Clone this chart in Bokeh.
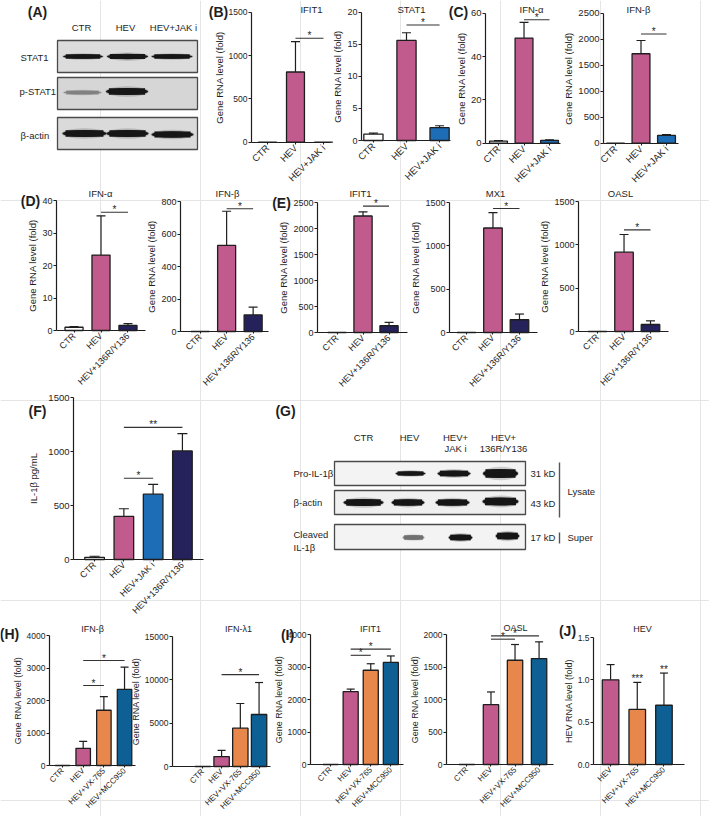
import math
from bokeh.plotting import figure
from bokeh.models import (Range1d, FixedTicker, LinearAxis, ColumnDataSource,
                          NumeralTickFormatter)
from bokeh.core.properties import value
from bokeh.embed import file_html
from bokeh.resources import INLINE

FONT = "Liberation Sans"
INK = "#1e1e1e"

# ---------------- data ----------------
cats_jak = ["CTR", "HEV", "HEV+JAK i"]
cats_136 = ["CTR", "HEV", "HEV+136R/Y136"]
cats_f = ["CTR", "HEV", "HEV+JAK i", "HEV+136R/Y136"]
cats_inh = ["CTR", "HEV", "HEV+VX-765", "HEV+MCC950"]
cats_j = ["HEV", "HEV+VX-765", "HEV+MCC950"]

b_ifit1_mean = [1, 810, 2]
b_ifit1_err = [0, 350, 0]
b_ifit1_sig = [(1, 2, 1200, "*")]
b_ifit1_ticks = [0, 500, 1000, 1500]

b_stat1_mean = [1.0, 15.6, 2.0]
b_stat1_err = [0.15, 1.2, 0.3]
b_stat1_sig = [(1, 2, 18.0, "*")]
b_stat1_ticks = [0, 5, 10, 15, 20]

c_ifna_mean = [1.0, 48.5, 1.3]
c_ifna_err = [0.2, 7.3, 0.3]
c_ifna_sig = [(1, 2, 57, "*")]
c_ifna_ticks = [0, 20, 40, 60]

c_ifnb_mean = [1, 1720, 150]
c_ifnb_err = [0, 255, 15]
c_ifnb_sig = [(1, 2, 2100, "*")]
c_ifnb_ticks = [0, 500, 1000, 1500, 2000, 2500]

d_ifna_mean = [1.0, 23.2, 1.6]
d_ifna_err = [0.2, 12.1, 0.5]
d_ifna_sig = [(1, 2, 36.4, "*")]
d_ifna_ticks = [0, 10, 20, 30, 40]

d_ifnb_mean = [1, 530, 102]
d_ifnb_err = [0, 210, 48]
d_ifnb_sig = [(1, 2, 755, "*")]
d_ifnb_ticks = [0, 200, 400, 600, 800]

e_ifit1_mean = [1, 2240, 130]
e_ifit1_err = [0, 80, 65]
e_ifit1_sig = [(1, 2, 2430, "*")]
e_ifit1_ticks = [0, 500, 1000, 1500, 2000, 2500]

e_mx1_mean = [1, 1206, 147]
e_mx1_err = [0, 178, 66]
e_mx1_sig = [(1, 2, 1430, "*")]
e_mx1_ticks = [0, 500, 1000, 1500]

e_oasl_mean = [1, 915, 81]
e_oasl_err = [0, 204, 42]
e_oasl_sig = [(1, 2, 1173, "*")]
e_oasl_ticks = [0, 500, 1000, 1500]

f_il1b_mean = [20, 400, 605, 1005]
f_il1b_err = [10, 70, 90, 160]
f_il1b_sig = [(1, 2, 753, "*"), (1, 3, 1223, "**")]
f_il1b_ticks = [0, 500, 1000, 1500]

h_ifnb_mean = [1, 530, 1700, 2340]
h_ifnb_err = [0, 210, 420, 690]
h_ifnb_sig = [(1, 2, 2460, "*"), (1, 3, 3230, "*")]
h_ifnb_ticks = [0, 1000, 2000, 3000, 4000]

h_ifnl1_mean = [1, 1150, 4420, 6000]
h_ifnl1_err = [0, 700, 2850, 3690]
h_ifnl1_sig = [(1, 3, 10600, "*")]
h_ifnl1_ticks = [0, 5000, 10000, 15000]

i_ifit1_mean = [1, 2240, 2900, 3140]
i_ifit1_err = [0, 80, 200, 200]
i_ifit1_sig = [(1, 2, 3360, "*"), (1, 3, 3550, "*")]
i_ifit1_ticks = [0, 1000, 2000, 3000, 4000]

i_oasl_mean = [1, 920, 1604, 1630]
i_oasl_err = [0, 196, 242, 257]
i_oasl_sig = [(1, 2, 1928, "*"), (1, 3, 1979, "*")]
i_oasl_ticks = [0, 500, 1000, 1500, 2000]

j_hev_mean = [1.0, 0.65, 0.70]
j_hev_err = [0.18, 0.32, 0.38]
j_hev_marks = ["", "***", "**"]
j_hev_ticks = [0.0, 0.5, 1.0, 1.5]

# ---------------- styles ----------------
COLOR = {"CTR": "#ffffff", "HEV": "#c25b8d", "HEV+JAK i": "#1c6db6",
         "HEV+136R/Y136": "#25215b", "HEV+VX-765": "#e8874c",
         "HEV+MCC950": "#0e5f94"}

W, H = 709, 816

p = figure(width=W, height=H, output_backend="svg", toolbar_location=None,
           x_range=Range1d(0, W), y_range=Range1d(H, 0), min_border=0,
           x_axis_location=None, y_axis_location=None)
p.outline_line_color = None
p.background_fill_color = "white"
p.border_fill_color = "white"


def txt(x, y, s, size="9.5px", align="left", bold=False, baseline="middle"):
    p.text(x=[x], y=[y], text=[s], text_align=align, text_baseline=baseline,
           text_font=value(FONT), text_font_size=value(size),
           text_font_style="bold" if bold else "normal", text_color=INK)


def style_axis(ax, tf, lf=None, ls=1):
    ax.axis_line_width = 1.2
    ax.axis_line_color = INK
    ax.major_tick_line_color = INK
    ax.major_tick_line_width = 1.1
    ax.major_tick_out = 3
    ax.major_tick_in = 0
    ax.minor_tick_out = 0
    ax.minor_tick_in = 0
    ax.major_label_text_font = FONT
    ax.major_label_text_font_size = tf
    ax.major_label_text_color = INK
    if lf:
        ax.axis_label_text_font = FONT
        ax.axis_label_text_font_size = lf
        ax.axis_label_text_font_style = "normal"
        ax.axis_label_text_color = INK
        ax.axis_label_standoff = ls


def panel(name, cats, means, errs, ticks, title, ylabel, lay, sigs=(),
          marks=None, fmt=None):
    fl, fr, ft, fb = lay["frame"]
    xr0, xr1 = lay["xr"]
    y0, y1 = ticks[0], ticks[-1]
    kx = (xr1 - xr0) / (fr - fl)
    ky = (y1 - y0) / (fb - ft)
    p.extra_x_ranges[name] = Range1d(xr0 - fl * kx, xr0 + (W - fl) * kx)
    p.extra_y_ranges[name] = Range1d(y0 - (H - fb) * ky, y0 + fb * ky)
    rn = dict(x_range_name=name, y_range_name=name)

    xs = list(range(len(cats)))
    bw = lay.get("bw", 0.67)
    src = ColumnDataSource(dict(x=xs, top=means, color=[COLOR[c] for c in cats]))
    p.vbar(x="x", top="top", bottom=y0, width=bw, fill_color="color",
           line_color=INK, line_width=1.3, source=src, **rn)

    cw = lay.get("cap", 9) * kx / 2
    ex = [x for x, e in zip(xs, errs) if e > 0]
    el = [m for m, e in zip(means, errs) if e > 0]
    eu = [m + e for m, e in zip(means, errs) if e > 0]
    p.segment(x0=ex, y0=el, x1=ex, y1=eu, line_color=INK, line_width=1.2, **rn)
    p.segment(x0=[x - cw for x in ex], y0=eu, x1=[x + cw for x in ex], y1=eu,
              line_color=INK, line_width=1.2, **rn)

    for a, b, yv, t in sigs:
        p.segment(x0=[a], y0=[yv], x1=[b], y1=[yv], line_color="#333333",
                  line_width=1.1, **rn)
        p.text(x=[(a + b) / 2], y=[yv], text=[t], text_align="center",
               text_baseline="bottom", y_offset=3, text_font=value(FONT),
               text_font_size=value("10px"), text_color=INK, **rn)
    if marks:
        mx = [x for x, k in zip(xs, marks) if k]
        my = [m + e for m, e, k in zip(means, errs, marks) if k]
        mt = [k for k in marks if k]
        p.text(x=mx, y=my, text=mt, text_align="center", text_baseline="bottom",
               y_offset=2, text_font=value(FONT), text_font_size=value("10px"),
               text_color=INK, **rn)

    ya = LinearAxis(fixed_location=xr0, bounds=(y0, y1),
                    ticker=FixedTicker(ticks=ticks), axis_label=ylabel, **rn)
    if fmt:
        ya.formatter = NumeralTickFormatter(format=fmt)
    style_axis(ya, lay.get("tf", "9px"), lay.get("lf", "9.5px"), lay.get("ls", 1))
    ya.major_label_standoff = 1
    p.add_layout(ya, "left")

    xa = LinearAxis(fixed_location=y0, bounds=(xr0, xr1),
                    ticker=FixedTicker(ticks=xs),
                    major_label_overrides={i: c for i, c in enumerate(cats)},
                    major_label_orientation=math.pi / 4, **rn)
    style_axis(xa, lay.get("xf", "9px"))
    xa.major_tick_out = 2
    xa.major_label_standoff = 2
    p.add_layout(xa, "below")

    if title:
        tx, ty = lay["title"]
        txt(tx, ty, title, lay.get("lf", "9.5px"), "center")
    if "letter" in lay:
        t, lx, ly = lay["letter"]
        txt(lx, ly, t, "14px", "center", bold=True)


def band(x, y, w, h, color="#161616", alpha=1.0):
    p.ellipse(x=[x], y=[y], width=[w * 1.04], height=[h * 1.5], fill_color=color,
              fill_alpha=0.18 * alpha, line_color=None)
    p.ellipse(x=[x], y=[y], width=[w], height=[h], fill_color=color,
              fill_alpha=alpha, line_color=None)
    p.rect(x=[x], y=[y], width=[w * 0.86], height=[h * 0.95], fill_color=color,
           fill_alpha=alpha, line_color=None)


def blot_box(l, r, t, b, fill):
    p.quad(left=[l], right=[r], top=[t], bottom=[b], fill_color=fill,
           line_color="#4a4a4a", line_width=1.3)


# ---------------- panel A (western blot) ----------------
txt(37, 11, "(A)", "14px", "center", bold=True)
for x, s in [(81, "CTR"), (125, "HEV"), (173, "HEV+JAK i")]:
    txt(x, 27, s, "9.5px", "center")
blot_box(57, 197, 40, 72, "#dcdcdc")
blot_box(57, 197, 77, 109, "#d6d6d6")
blot_box(57, 197, 117, 149, "#dadada")
txt(20, 57, "STAT1")
txt(19, 91, "p-STAT1")
txt(20, 135, "β-actin")
band(82.5, 56, 40, 4.5)
band(127, 56, 41, 5.5)
band(171.5, 56, 41, 4.5)
band(82, 92, 38, 4, "#7a7a7a", 0.7)
band(126.5, 91, 42, 7)
band(84, 133, 44, 7)
band(127, 133, 42, 7)
band(172, 134, 42, 6.5)

# ---------------- row 1 bar panels ----------------
YL = "Gene RNA level (fold)"
panel("b1", cats_jak, b_ifit1_mean, b_ifit1_err, b_ifit1_ticks, "IFIT1", YL,
      dict(frame=(251, 330, 11.7, 141.7), xr=(-0.57, 2.25), bw=0.64,
           title=(311, 9), letter=("(B)", 218, 11), tf="8.5px", xf="9.5px"),
      sigs=b_ifit1_sig)
panel("b2", cats_jak, b_stat1_mean, b_stat1_err, b_stat1_ticks, "STAT1", YL,
      dict(frame=(361, 450, 11.7, 140), xr=(-0.36, 2.33), bw=0.58,
           title=(411, 9), tf="9px", xf="9.5px"),
      sigs=b_stat1_sig)
panel("c1", cats_jak, c_ifna_mean, c_ifna_err, c_ifna_ticks, "IFN-α", YL,
      dict(frame=(485, 560, 12.7, 142.7), xr=(-0.51, 2.43), bw=0.7,
           title=(531, 9), letter=("(C)", 458, 11), tf="9.5px", xf="9.5px"),
      sigs=c_ifna_sig)
panel("c2", cats_jak, c_ifnb_mean, c_ifnb_err, c_ifnb_ticks, "IFN-β", YL,
      dict(frame=(603, 678, 12.7, 142.7), xr=(-0.47, 2.47), bw=0.7,
           title=(638, 9), tf="9.5px", xf="9.5px"),
      sigs=c_ifnb_sig)

# ---------------- row 2 ----------------
panel("d1", cats_136, d_ifna_mean, d_ifna_err, d_ifna_ticks, "IFN-α", YL,
      dict(frame=(56, 145, 200, 330), xr=(-0.65, 2.65), bw=0.67,
           title=(100, 193), letter=("(D)", 30, 200)),
      sigs=d_ifna_sig)
panel("d2", cats_136, d_ifnb_mean, d_ifnb_err, d_ifnb_ticks, "IFN-β", YL,
      dict(frame=(180, 268, 201, 331), xr=(-0.74, 2.58), bw=0.68,
           title=(227, 193)),
      sigs=d_ifnb_sig)
panel("e1", cats_136, e_ifit1_mean, e_ifit1_err, e_ifit1_ticks, "IFIT1", YL,
      dict(frame=(317, 407, 202, 332), xr=(-0.75, 2.71), bw=0.7,
           title=(360, 193), letter=("(E)", 281, 202)),
      sigs=e_ifit1_sig)
panel("e2", cats_136, e_mx1_mean, e_mx1_err, e_mx1_ticks, "MX1", YL,
      dict(frame=(449, 537, 202, 332), xr=(-0.64, 2.68), bw=0.7,
           title=(495, 193)),
      sigs=e_mx1_sig)
panel("e3", cats_136, e_oasl_mean, e_oasl_err, e_oasl_ticks, "OASL", YL,
      dict(frame=(578, 668, 201, 331), xr=(-0.72, 2.68), bw=0.7,
           title=(620, 193)),
      sigs=e_oasl_sig)

# ---------------- row 3 ----------------
panel("f", cats_f, f_il1b_mean, f_il1b_err, f_il1b_ticks, None, "IL-1β pg/mL",
      dict(frame=(73, 203, 397, 559), xr=(-0.72, 3.72), bw=0.67, cap=10,
           letter=("(F)", 37, 410), tf="9.5px", xf="9px", ls=6),
      sigs=f_il1b_sig)

txt(285, 410, "(G)", "14px", "center", bold=True)
for x, y, s in [(363, 437, "CTR"), (409, 437, "HEV"), (455, 437, "HEV+"),
                (455, 447.5, "JAK i"), (503, 437, "HEV+"), (503, 447.5, "136R/Y136")]:
    txt(x, y, s, "9.5px", "center")
blot_box(334, 525, 461, 485, "#f3f3f3")
blot_box(334, 525, 490, 514, "#f0f0f0")
blot_box(334, 525, 524, 549, "#f3f3f3")
txt(293, 473, "Pro-IL-1β")
txt(293, 502, "β-actin")
txt(293, 534, "Cleaved")
txt(293, 547, "IL-1β")
txt(530, 473, "31 kD")
txt(530, 503, "43 kD")
txt(530, 537, "17 kD")
p.segment(x0=[559, 559], y0=[462, 532], x1=[559, 559], y1=[517, 543],
          line_color="#555555", line_width=1.4)
txt(567, 491, "Lysate")
txt(567, 537, "Super")
band(410, 473, 30, 4.5)
band(453.5, 473, 33, 6)
band(500, 473, 35, 9)
band(363, 502, 40, 7)
band(407.5, 502, 33, 6.5)
band(452, 502, 34, 6.5)
band(500, 501, 36, 8)
band(413, 537, 22, 5, "#6a6a6a", 0.75)
band(460, 537, 24, 6)
band(507, 535.5, 24, 7)

# ---------------- row 4 ----------------
panel("h1", cats_inh, h_ifnb_mean, h_ifnb_err, h_ifnb_ticks, "IFN-β", YL,
      dict(frame=(49, 135, 635, 765), xr=(-0.63, 3.53), bw=0.7, cap=8,
           title=(92, 628), letter=("(H)", 9, 633), tf="8.5px", lf="9px",
           xf="8px"),
      sigs=h_ifnb_sig)
panel("h2", cats_inh, h_ifnl1_mean, h_ifnl1_err, h_ifnl1_ticks, "IFN-λ1", YL,
      dict(frame=(172, 270, 636, 766), xr=(-1.62, 3.61), bw=0.82, cap=8,
           title=(238, 628), tf="8.5px", lf="9px", xf="8px"),
      sigs=h_ifnl1_sig)
panel("i1", cats_inh, i_ifit1_mean, i_ifit1_err, i_ifit1_ticks, "IFIT1", YL,
      dict(frame=(310, 403, 634, 764), xr=(-1.0, 3.63), bw=0.75, cap=8,
           title=(370, 628), letter=("(I)", 287, 634), tf="8.5px", lf="9px",
           xf="8px"),
      sigs=i_ifit1_sig)
panel("i2", cats_inh, i_oasl_mean, i_oasl_err, i_oasl_ticks, "OASL", YL,
      dict(frame=(446, 553, 634, 764), xr=(-0.85, 3.6), bw=0.64, cap=8,
           title=(515, 627), tf="8.5px", lf="9px", xf="8px"),
      sigs=i_oasl_sig)
panel("j", cats_j, j_hev_mean, j_hev_err, j_hev_ticks, "HEV",
      "HEV RNA level (fold)",
      dict(frame=(593, 684, 637, 764), xr=(-0.64, 2.77), bw=0.62, cap=8,
           title=(642, 628), letter=("(J)", 567, 630), tf="8.5px", lf="9px",
           xf="8px"),
      marks=j_hev_marks, fmt="0.0")

open("out.html", "w").write(file_html(p, INLINE))
